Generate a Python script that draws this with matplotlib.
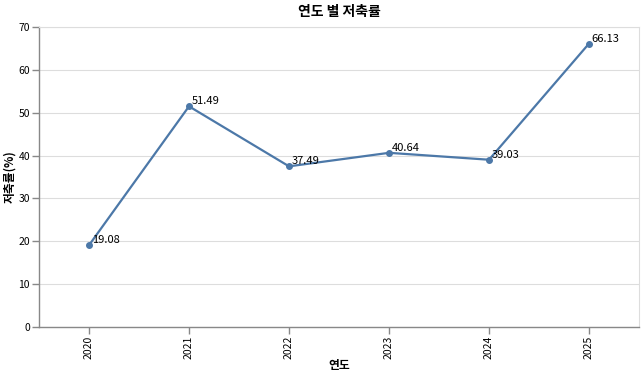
import matplotlib
matplotlib.use("Agg")
import matplotlib.pyplot as plt

plt.rcParams['font.family'] = ['Noto Sans CJK KR', 'DejaVu Sans']

years = ["2020", "2021", "2022", "2023", "2024", "2025"]
rates = [19.08, 51.49, 37.49, 40.64, 39.03, 66.13]
yticks = [0, 10, 20, 30, 40, 50, 60, 70]

fig = plt.figure(figsize=(6.44, 3.77), dpi=100)
ax = fig.add_axes([39/644, 50/377, 600/644, 300/377])

xs = list(range(len(years)))
ax.plot(xs, rates, color='#4c78a8', linewidth=1.6, marker='o', markersize=4, zorder=3)
for x, v in zip(xs, rates):
    ax.annotate(f"{v:.2f}", (x, v), xytext=(2, 0), textcoords='offset points',
                fontsize=8, color='black', ha='left', va='bottom')

ax.set_xlim(-0.5, len(years) - 0.5)
ax.set_ylim(0, 70)
ax.set_yticks(yticks)
ax.set_xticks(xs)
ax.set_xticklabels(years, rotation=90)
ax.grid(axis='y', color='#dddddd', linewidth=0.8)
ax.set_axisbelow(True)
for s in ['top', 'right']:
    ax.spines[s].set_color('#dddddd')
    ax.spines[s].set_linewidth(0.8)
for s in ['left', 'bottom']:
    ax.spines[s].set_color('#888888')
    ax.spines[s].set_linewidth(1)
ax.tick_params(axis='both', colors='#888888', labelcolor='black', labelsize=7.5,
               length=5, width=1, pad=1.5)

xl = ax.set_xlabel("연도", fontsize=8.5, fontweight='bold')
yl = ax.set_ylabel("저축률(%)", fontsize=8.5, fontweight='bold')
xl.set_verticalalignment('center')
yl.set_verticalalignment('center')
yl.set_horizontalalignment('center')
ax.xaxis.set_label_coords((339 - 39) / 600, -(366 - 327) / 300)
ax.yaxis.set_label_coords(-(39 - 10) / 600, (327 - 177) / 300)
ax.set_title("연도 별 저축률", fontsize=10, fontweight='bold', pad=8)

fig.savefig("out.png", dpi=100)
